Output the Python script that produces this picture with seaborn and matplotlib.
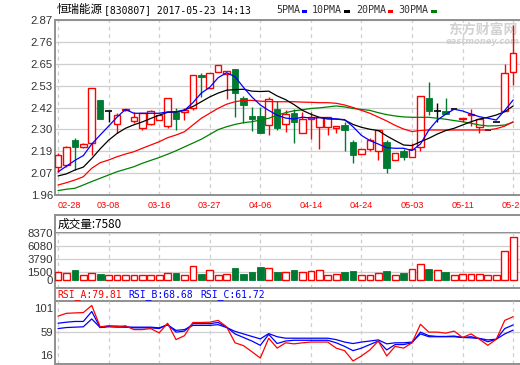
import numpy as np
import matplotlib
matplotlib.use("Agg")
import matplotlib.pyplot as plt
from matplotlib.patches import Rectangle
import seaborn as sns

sns.set_style("white")
plt.rcParams['font.family'] = ['Liberation Sans', 'Noto Sans CJK SC']

stock_name = '恒瑞能源'
stock_info = '[830807] 2017-05-23 14:13'
ma_names = ['5PMA', '10PMA', '20PMA', '30PMA']
date_ticks = [0, 6, 12, 18, 24, 30, 36, 42, 48, 54]
date_labels = ['02-28', '03-08', '03-16', '03-27', '04-06', '04-14', '04-24', '05-03', '05-11', '05-23']
price_labels = ['1.96', '2.07', '2.19', '2.30', '2.42', '2.53', '2.65', '2.76', '2.87']
vol_ticks = [0, 1500, 3790, 6080, 8370]
rsi_ticks = [16, 59, 101]
vol_name = '成交量'
vol_last = 7580
rsi_names = ['RSI_A', 'RSI_B', 'RSI_C']
rsi_last = [79.81, 68.68, 61.72]

opens = [2.107, 2.116, 2.246, 2.211, 2.229, 2.454, 2.398, 2.328, 2.400, 2.346,
         2.310, 2.328, 2.348, 2.320, 2.393, 2.393, 2.411, 2.584, 2.518, 2.598,
         2.588, 2.614, 2.463, 2.372, 2.372, 2.322, 2.406, 2.329, 2.388, 2.281,
         2.354, 2.312, 2.312, 2.310, 2.324, 2.234, 2.172, 2.201, 2.190, 2.236,
         2.142, 2.190, 2.159, 2.211, 2.463, 2.398, 2.398, 2.406, 2.355, 2.375,
         2.312, 2.300, 2.340, 2.398, 2.598]
closes = [2.168, 2.210, 2.211, 2.224, 2.515, 2.357, 2.398, 2.376, 2.405, 2.364,
          2.385, 2.395, 2.374, 2.463, 2.357, 2.400, 2.582, 2.575, 2.593, 2.634,
          2.606, 2.489, 2.428, 2.355, 2.280, 2.459, 2.310, 2.381, 2.338, 2.357,
          2.364, 2.364, 2.364, 2.319, 2.300, 2.170, 2.198, 2.246, 2.298, 2.102,
          2.177, 2.159, 2.199, 2.475, 2.398, 2.398, 2.379, 2.406, 2.362, 2.380,
          2.354, 2.300, 2.340, 2.593, 2.697]
highs = [2.180, 2.215, 2.255, 2.228, 2.515, 2.454, 2.398, 2.388, 2.408, 2.393,
         2.385, 2.400, 2.374, 2.463, 2.410, 2.410, 2.582, 2.596, 2.593, 2.634,
         2.606, 2.614, 2.475, 2.416, 2.416, 2.468, 2.448, 2.400, 2.405, 2.390,
         2.390, 2.364, 2.364, 2.319, 2.340, 2.246, 2.198, 2.255, 2.298, 2.246,
         2.177, 2.200, 2.230, 2.475, 2.549, 2.437, 2.463, 2.406, 2.362, 2.405,
         2.354, 2.300, 2.340, 2.640, 2.844]
lows = [2.081, 2.107, 2.090, 2.207, 2.168, 2.357, 2.341, 2.281, 2.398, 2.333,
        2.300, 2.325, 2.348, 2.310, 2.300, 2.350, 2.400, 2.470, 2.518, 2.598,
        2.460, 2.367, 2.333, 2.293, 2.280, 2.272, 2.300, 2.290, 2.229, 2.281,
        2.250, 2.200, 2.270, 2.280, 2.190, 2.128, 2.172, 2.190, 2.140, 2.076,
        2.142, 2.140, 2.159, 2.190, 2.378, 2.338, 2.379, 2.406, 2.340, 2.320,
        2.280, 2.300, 2.340, 2.398, 2.532]
volumes = [1420, 1180, 1770, 830, 1180, 1060, 830, 830, 830, 830,
           830, 830, 830, 1180, 1240, 830, 2420, 1060, 1770, 830,
           1060, 2120, 1060, 1420, 2300, 2070, 1420, 1420, 1770, 1420,
           1590, 1770, 830, 1060, 1420, 1590, 830, 830, 1180, 1590,
           830, 1240, 1890, 2830, 1950, 1770, 1420, 830, 1060, 1060,
           1060, 830, 830, 5070, 7580]

ma5 = [2.080, 2.110, 2.140, 2.165, 2.225, 2.272, 2.318, 2.365, 2.405, 2.385,
       2.385, 2.385, 2.385, 2.392, 2.393, 2.400, 2.440, 2.490, 2.520, 2.570,
       2.596, 2.575, 2.520, 2.470, 2.428, 2.400, 2.375, 2.360, 2.355, 2.365,
       2.360, 2.362, 2.360, 2.355, 2.352, 2.315, 2.270, 2.243, 2.225, 2.206,
       2.203, 2.203, 2.191, 2.225, 2.298, 2.350, 2.380, 2.406, 2.397, 2.381,
       2.367, 2.359, 2.350, 2.400, 2.454]
ma10 = [2.059, 2.070, 2.090, 2.105, 2.150, 2.200, 2.245, 2.280, 2.307, 2.325,
        2.340, 2.358, 2.375, 2.390, 2.392, 2.402, 2.420, 2.445, 2.470, 2.490,
        2.505, 2.508, 2.510, 2.500, 2.498, 2.500, 2.475, 2.456, 2.430, 2.400,
        2.380, 2.364, 2.355, 2.355, 2.350, 2.327, 2.312, 2.302, 2.295, 2.267,
        2.243, 2.220, 2.217, 2.237, 2.255, 2.277, 2.295, 2.307, 2.324, 2.341,
        2.355, 2.364, 2.376, 2.393, 2.423]
ma20 = [2.012, 2.024, 2.038, 2.055, 2.099, 2.128, 2.142, 2.159, 2.173, 2.185,
        2.203, 2.220, 2.237, 2.258, 2.272, 2.289, 2.324, 2.359, 2.385, 2.411,
        2.432, 2.445, 2.452, 2.452, 2.448, 2.446, 2.445, 2.445, 2.445, 2.443,
        2.442, 2.440, 2.440, 2.437, 2.428, 2.415, 2.400, 2.385, 2.365, 2.345,
        2.322, 2.303, 2.290, 2.296, 2.298, 2.298, 2.298, 2.298, 2.298, 2.298,
        2.298, 2.298, 2.305, 2.318, 2.341]
ma30 = [1.983, 1.990, 1.995, 2.012, 2.030, 2.047, 2.064, 2.081, 2.094, 2.107,
        2.125, 2.140, 2.155, 2.172, 2.190, 2.210, 2.230, 2.250, 2.275, 2.300,
        2.315, 2.327, 2.336, 2.341, 2.350, 2.359, 2.375, 2.388, 2.398, 2.403,
        2.410, 2.413, 2.418, 2.423, 2.418, 2.410, 2.405, 2.400, 2.388, 2.378,
        2.371, 2.366, 2.364, 2.364, 2.364, 2.359, 2.354, 2.347, 2.341, 2.333,
        2.324, 2.319, 2.320, 2.324, 2.338]

rsi_a = [80.6, 84.4, 84.9, 85.4, 95.0, 66.2, 67.6, 66.2, 67.6, 62.4,
         62.4, 63.8, 58.0, 71.0, 48.9, 54.2, 72.0, 72.0, 72.4, 74.8,
         66.2, 44.6, 40.8, 32.6, 24.0, 50.8, 37.4, 44.6, 43.2, 44.6,
         45.6, 45.6, 45.6, 37.4, 34.0, 20.1, 26.8, 35.0, 47.0, 26.8,
         39.8, 37.4, 44.6, 69.6, 59.0, 59.0, 57.6, 60.4, 51.8, 56.6,
         49.4, 41.2, 49.4, 74.8, 79.81]
rsi_b = [71.0, 72.4, 73.4, 73.4, 86.8, 65.2, 67.2, 67.2, 66.2, 64.8,
         64.8, 64.8, 63.8, 69.6, 59.0, 60.4, 70.5, 70.5, 70.5, 72.0,
         65.7, 56.6, 51.8, 47.0, 41.2, 56.0, 43.6, 47.0, 48.0, 48.0,
         48.0, 48.0, 48.0, 44.6, 39.8, 34.0, 37.4, 42.2, 47.0, 35.0,
         42.2, 42.2, 44.6, 59.0, 54.2, 53.2, 53.2, 53.7, 51.8, 52.8,
         50.4, 46.0, 49.4, 63.8, 68.68]
rsi_c = [63.8, 65.2, 65.7, 66.2, 76.8, 65.2, 66.2, 65.7, 65.7, 65.7,
         65.7, 65.7, 64.8, 68.6, 61.4, 62.4, 68.1, 68.1, 68.1, 69.1,
         65.2, 60.0, 56.6, 53.2, 49.9, 57.0, 52.8, 50.8, 50.8, 50.8,
         50.8, 50.8, 50.8, 48.9, 45.6, 43.6, 45.6, 47.0, 48.5, 43.2,
         44.6, 44.6, 45.6, 56.6, 52.8, 52.8, 52.8, 52.8, 51.8, 51.3,
         50.4, 48.5, 49.4, 56.6, 61.72]

RED = '#ff0000'
GREEN = '#007a33'
MA_COLORS = ['#0000ff', '#000000', '#ff0000', '#008000']
BORDER = '#8f8f8f'
GRID = '#cfcfcf'
TXT = '#333333'

W, H = 520, 365


def box(l, t, r, b):
    return [l / W, 1 - b / H, (r - l) / W, (b - t) / H]


fig = plt.figure(figsize=(W / 100, H / 100), dpi=100)
fig.patch.set_facecolor('white')

idx = np.arange(len(closes))
o, c, hi, lo = (np.array(a) for a in (opens, closes, highs, lows))
vol = np.array(volumes)
xlim = (-0.36, 55.05)
dash = (0, (3, 3))


def style(ax, spines):
    ax.set_facecolor('none')
    for k, sp in ax.spines.items():
        sp.set_visible(k in spines)
        sp.set_color(BORDER)
        sp.set_linewidth(1.4)
    ax.tick_params(length=0, pad=1.5, labelsize=8.2, colors=TXT)


# ---- price panel
ax = fig.add_axes(box(55, 20, 522, 195))
style(ax, ['left', 'top', 'bottom'])
ax.set_xlim(*xlim)
ax.set_ylim(1.96, 2.87)
ax.set_yticks(np.linspace(1.96, 2.87, len(price_labels)))
ax.set_yticklabels(price_labels)
ax.set_xticks(date_ticks)
ax.set_xticklabels(date_labels)
ax.tick_params(axis='x', pad=4.5, labelsize=6.6, labelcolor=RED)
ax.get_xticklabels()[0].set_ha('left')
ax.grid(axis='y', color=GRID, lw=0.9)
ax.grid(axis='x', color=GRID, lw=0.9, ls=dash)

up = c > o
dn = c < o
fl = c == o
b_lo = np.minimum(o, c)
b_hi = np.maximum(o, c)
bw = 0.78
ax.vlines(idx[up], b_hi[up], hi[up], color=RED, lw=1, zorder=2)
ax.vlines(idx[up], lo[up], b_lo[up], color=RED, lw=1, zorder=2)
ax.vlines(idx[dn], lo[dn], hi[dn], color=GREEN, lw=1, zorder=2)
ax.vlines(idx[fl], lo[fl], hi[fl], color='black', lw=1, zorder=2)
ax.bar(idx[up], b_hi[up] - b_lo[up], bw, bottom=b_lo[up], facecolor='white',
       edgecolor=RED, lw=1, zorder=3)
ax.bar(idx[dn], b_hi[dn] - b_lo[dn], bw, bottom=b_lo[dn], facecolor=GREEN,
       edgecolor=GREEN, lw=0.6, zorder=3)
ax.hlines(o[fl], idx[fl] - bw / 2, idx[fl] + bw / 2, color='black', lw=1.2, zorder=3)

for ma, col in zip([ma30, ma20, ma10, ma5], MA_COLORS[::-1]):
    sns.lineplot(x=idx, y=ma, ax=ax, color=col, lw=0.9, errorbar=None, zorder=4)
ax.set_xlabel('')
ax.set_ylabel('')

# ---- title, legend, watermark
fig.text(57 / W, 1 - 13.3 / H, stock_name, family='Noto Sans CJK SC',
         fontsize=8.3, color='black', va='baseline')
fig.text(104 / W, 1 - 13.3 / H, stock_info, family='DejaVu Sans Mono',
         fontsize=7, color='black', va='baseline')
leg_x = [276, 311.5, 356, 398]
sq_x = [301.5, 344, 387.5, 431]
for name, col, tx, sx in zip(ma_names, MA_COLORS, leg_x, sq_x):
    fig.text(tx / W, 1 - 13.3 / H, name, family='DejaVu Sans Mono',
             fontsize=7.2, color=TXT, va='baseline')
    fig.add_artist(Rectangle((sx / W, 1 - 12.5 / H), 5.5 / W, 3 / H,
                             transform=fig.transFigure, color=col, lw=0))
fig.text(483 / W, 1 - 29.5 / H, '东方财富网', family='Noto Sans CJK SC',
         fontsize=10, fontweight='bold', color='#d2d2d2', ha='center',
         va='center', zorder=-1)
fig.text(483 / W, 1 - 41 / H, 'eastmoney.com', family='DejaVu Sans',
         fontsize=6, fontweight='bold', style='italic', color='#d2d2d2',
         ha='center', va='center', zorder=-1)

# ---- volume header + panel
axh = fig.add_axes(box(55, 215, 522, 232.7))
style(axh, ['left', 'top', 'bottom'])
axh.set_xticks([])
axh.set_yticks([])
axh.text(0.005, 0.45, f'{vol_name}:{vol_last}', transform=axh.transAxes,
         family='Noto Sans CJK SC', fontsize=8.4, color='black', va='center')

axv = fig.add_axes(box(55, 232.7, 522, 287.7))
style(axv, ['left', 'bottom'])
axv.set_xlim(*xlim)
axv.set_ylim(-1360, 8370)
axv.set_yticks(vol_ticks)
axv.set_yticklabels([str(v) for v in vol_ticks])
axv.set_xticks(date_ticks)
axv.set_xticklabels([])
axv.grid(axis='y', color=GRID, lw=0.9)
axv.grid(axis='x', color=GRID, lw=0.9, ls=dash)
axv.yaxis.get_gridlines()[0].set_visible(False)
vup = c >= o
axv.bar(idx[vup], vol[vup], 0.8, facecolor='white', edgecolor=RED, lw=1, zorder=3)
axv.bar(idx[~vup], vol[~vup], 0.8, facecolor=GREEN, edgecolor=GREEN, lw=0.6, zorder=3)

# ---- RSI header + panel
axrh = fig.add_axes(box(55, 287.7, 522, 301))
style(axrh, ['left', 'bottom'])
axrh.set_xticks([])
axrh.set_yticks([])
for name, val, col, tx in zip(rsi_names, rsi_last, [RED, '#0000ff', '#0000ff'], [57, 128, 200]):
    fig.text(tx / W, 1 - 294.5 / H, f'{name}:{val:.2f}', family='DejaVu Sans Mono',
             fontsize=7, color=col, va='center')

axr = fig.add_axes(box(55, 301, 522, 364))
style(axr, ['left', 'bottom'])
axr.set_xlim(*xlim)
axr.set_ylim(16, 101)
axr.set_yticks([59])
axr.set_yticklabels([])
axr.set_xticks(date_ticks)
axr.set_xticklabels([])
axr.grid(axis='y', color=GRID, lw=0.9)
axr.grid(axis='x', color=GRID, lw=0.9, ls=dash)
for v, dy in zip(rsi_ticks, [5.8, -0.7, -5.8]):
    axr.annotate(str(v), xy=(0, v), xycoords=('axes fraction', 'data'),
                 xytext=(-1.5, dy), textcoords='offset points', ha='right',
                 va='center', fontsize=8.2, color=TXT, annotation_clip=False)
for series, col in zip([rsi_c, rsi_b, rsi_a], ['#0000ff', '#0000ff', RED]):
    sns.lineplot(x=idx, y=series, ax=axr, color=col, lw=0.9, errorbar=None, zorder=3)
axr.set_xlabel('')
axr.set_ylabel('')

fig.savefig('out.png', dpi=100, facecolor='white')
